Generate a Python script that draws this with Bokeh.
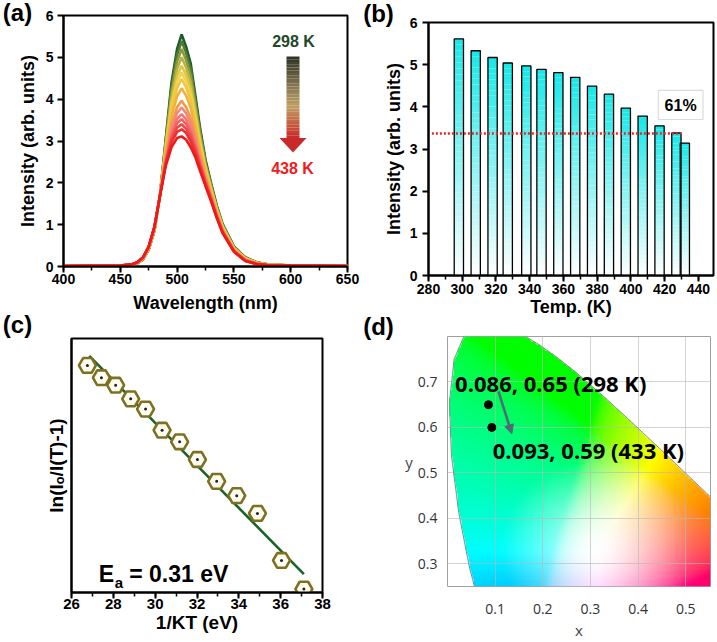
import numpy as np
from bokeh.plotting import figure
from bokeh.layouts import row, column
from bokeh.models import (Range1d, SingleIntervalTicker, FixedTicker, Label,
                          BoxAnnotation, Arrow, NormalHead)
from bokeh.embed import file_html
from bokeh.resources import INLINE

# ---------------- data ----------------
# (a) emission spectra, 298 K ... 438 K
wavelength = [400, 450, 460, 465, 470, 475, 480, 485, 490, 495, 500, 504, 508, 512,
              516, 520, 525, 530, 535, 540, 550, 560, 570, 580, 600, 650]
spec_temps = [298, 308, 318, 328, 338, 348, 358, 368, 378, 388, 398, 408, 418, 428, 438]
spec_298 = [0.00, 0.01, 0.03, 0.07, 0.17, 0.40, 0.85, 1.72, 3.05, 4.38, 5.20, 5.55, 5.25, 4.85, 4.10, 3.35, 2.55, 1.98, 1.45, 1.02, 0.48, 0.22, 0.10, 0.05, 0.02, 0.01]
spec_308 = [0.00, 0.01, 0.03, 0.07, 0.17, 0.41, 0.86, 1.72, 3.01, 4.28, 5.06, 5.39, 5.10, 4.72, 4.00, 3.28, 2.51, 1.95, 1.43, 1.01, 0.47, 0.21, 0.10, 0.05, 0.02, 0.01]
spec_318 = [0.00, 0.01, 0.03, 0.07, 0.18, 0.41, 0.86, 1.72, 2.96, 4.16, 4.90, 5.20, 4.93, 4.56, 3.89, 3.20, 2.46, 1.92, 1.41, 0.99, 0.46, 0.21, 0.09, 0.05, 0.02, 0.01]
spec_328 = [0.00, 0.01, 0.03, 0.08, 0.18, 0.42, 0.87, 1.72, 2.90, 4.04, 4.72, 5.00, 4.75, 4.40, 3.77, 3.11, 2.41, 1.88, 1.38, 0.97, 0.45, 0.20, 0.09, 0.05, 0.02, 0.01]
spec_338 = [0.00, 0.01, 0.04, 0.08, 0.19, 0.42, 0.88, 1.71, 2.85, 3.91, 4.55, 4.80, 4.57, 4.24, 3.65, 3.03, 2.36, 1.85, 1.36, 0.95, 0.44, 0.19, 0.09, 0.04, 0.02, 0.01]
spec_348 = [0.00, 0.01, 0.04, 0.08, 0.19, 0.43, 0.89, 1.71, 2.81, 3.81, 4.41, 4.64, 4.42, 4.10, 3.55, 2.96, 2.32, 1.82, 1.34, 0.94, 0.43, 0.19, 0.09, 0.04, 0.02, 0.01]
spec_358 = [0.00, 0.01, 0.04, 0.08, 0.19, 0.44, 0.89, 1.71, 2.76, 3.71, 4.27, 4.48, 4.28, 3.97, 3.45, 2.89, 2.27, 1.79, 1.32, 0.92, 0.42, 0.18, 0.08, 0.04, 0.02, 0.01]
spec_368 = [0.01, 0.02, 0.04, 0.09, 0.20, 0.44, 0.90, 1.71, 2.71, 3.57, 4.07, 4.26, 4.08, 3.79, 3.32, 2.79, 2.22, 1.75, 1.29, 0.90, 0.41, 0.17, 0.08, 0.04, 0.02, 0.01]
spec_378 = [0.01, 0.02, 0.04, 0.09, 0.20, 0.45, 0.92, 1.71, 2.63, 3.38, 3.81, 3.96, 3.80, 3.55, 3.14, 2.67, 2.14, 1.70, 1.25, 0.88, 0.40, 0.16, 0.07, 0.04, 0.02, 0.01]
spec_388 = [0.01, 0.02, 0.04, 0.09, 0.21, 0.46, 0.92, 1.71, 2.58, 3.28, 3.67, 3.80, 3.66, 3.42, 3.04, 2.60, 2.10, 1.67, 1.24, 0.86, 0.39, 0.16, 0.07, 0.04, 0.02, 0.01]
spec_398 = [0.01, 0.02, 0.05, 0.09, 0.21, 0.46, 0.93, 1.70, 2.54, 3.18, 3.53, 3.64, 3.51, 3.28, 2.94, 2.53, 2.06, 1.64, 1.22, 0.85, 0.38, 0.15, 0.07, 0.03, 0.02, 0.01]
spec_408 = [0.01, 0.02, 0.05, 0.10, 0.21, 0.47, 0.93, 1.70, 2.51, 3.11, 3.43, 3.52, 3.40, 3.19, 2.87, 2.48, 2.03, 1.62, 1.20, 0.84, 0.37, 0.15, 0.07, 0.03, 0.02, 0.01]
spec_418 = [0.01, 0.02, 0.05, 0.10, 0.21, 0.47, 0.94, 1.70, 2.48, 3.03, 3.32, 3.40, 3.29, 3.09, 2.80, 2.43, 2.00, 1.60, 1.19, 0.83, 0.37, 0.14, 0.06, 0.03, 0.02, 0.01]
spec_428 = [0.01, 0.02, 0.05, 0.10, 0.22, 0.47, 0.94, 1.70, 2.45, 2.96, 3.22, 3.28, 3.19, 2.99, 2.72, 2.37, 1.96, 1.58, 1.17, 0.82, 0.36, 0.14, 0.06, 0.03, 0.02, 0.01]
spec_438 = [0.01, 0.02, 0.05, 0.10, 0.22, 0.48, 0.95, 1.70, 2.40, 2.85, 3.07, 3.11, 3.03, 2.85, 2.62, 2.30, 1.92, 1.55, 1.15, 0.80, 0.35, 0.13, 0.06, 0.03, 0.02, 0.01]
spectra = [spec_298, spec_308, spec_318, spec_328, spec_338, spec_348, spec_358, spec_368,
           spec_378, spec_388, spec_398, spec_408, spec_418, spec_428, spec_438]
spec_colors = ["#1f5a2c", "#4e7a33", "#889a3a", "#b8b23e", "#dcc645", "#f0d44c", "#f3c342",
               "#f2b03c", "#f29a48", "#f2877a", "#f27474", "#f15e5e", "#f04646", "#ef2e2e", "#ee1a1a"]

# (b) integrated intensity vs temperature
bar_temps = [298, 308, 318, 327, 338, 347, 357, 367, 377, 387, 397, 407, 417, 427, 432]
bar_intensity = [5.61, 5.33, 5.17, 5.04, 4.97, 4.89, 4.81, 4.70, 4.49, 4.30, 3.97, 3.78, 3.55, 3.38, 3.14]
level_61 = 3.37
level_x = [282, 430]

# (c) Arrhenius plot
inv_kt = [26.76, 27.43, 28.11, 28.83, 29.54, 30.33, 31.17, 32.02, 32.94, 33.90, 34.89, 36.04, 37.11]
ln_ratio = [-0.67, -0.85, -0.96, -1.16, -1.31, -1.62, -1.79, -2.05, -2.37, -2.58, -2.84, -3.53, -3.95]
fit_x = [26.85, 37.11]
fit_y = [-0.53, -3.73]

# (d) CIE 1931 chromaticity
cie_pts_x = [0.086, 0.093]
cie_pts_y = [0.65, 0.60]
locus_x = [0.1741, 0.1566, 0.1440, 0.1241, 0.1096, 0.0913, 0.0687, 0.0454, 0.0235, 0.0082,
           0.0039, 0.0139, 0.0389, 0.0743, 0.1142, 0.1547, 0.1929, 0.2296, 0.2658, 0.3016,
           0.3373, 0.3731, 0.4087, 0.4441, 0.4788, 0.5125, 0.5448, 0.5752, 0.6270, 0.6915, 0.7347]
locus_y = [0.0050, 0.0177, 0.0297, 0.0578, 0.0868, 0.1327, 0.2007, 0.2950, 0.4127, 0.5384,
           0.6548, 0.7502, 0.8120, 0.8338, 0.8262, 0.8059, 0.7816, 0.7543, 0.7243, 0.6923,
           0.6589, 0.6245, 0.5896, 0.5547, 0.5202, 0.4866, 0.4544, 0.4242, 0.3725, 0.3083, 0.2653]

BF = "Liberation Sans"


def no_align(p):
    try:
        p.frame_align = False
    except Exception:
        pass


def base_style(p, tick_px):
    p.outline_line_color = "black"
    p.outline_line_width = 2
    p.xgrid.visible = False
    p.ygrid.visible = False
    p.background_fill_color = "white"
    p.border_fill_color = "white"
    for ax in p.axis:
        ax.axis_line_width = 2
        ax.major_tick_line_width = 2
        ax.minor_tick_line_width = 1.5
        ax.major_tick_in = 0
        ax.minor_tick_in = 0
        ax.major_tick_out = 6
        ax.minor_tick_out = 4
        ax.major_label_text_font = BF
        ax.major_label_text_font_style = "bold"
        ax.major_label_text_font_size = f"{tick_px}px"
        ax.major_label_text_color = "black"
        ax.axis_label_text_font = BF
        ax.axis_label_text_font_style = "bold"
        ax.axis_label_text_color = "black"


def flabel(p, text, x, y, size, color="black", font=BF, style="bold", align="center",
           baseline="middle", side=None):
    lab = Label(x=x, y=y, x_units="data", y_units="data", text=text, text_font=font,
                text_font_size=f"{size}px", text_font_style=style, text_color=color,
                text_align=align, text_baseline=baseline)
    if side is None:
        p.add_layout(lab)
    else:
        p.add_layout(lab, side)


# ================= (a) =================
pa = figure(width=360, height=336, x_range=Range1d(400, 650), y_range=Range1d(0, 6),
            output_backend="svg", toolbar_location=None, title=None,
            min_border_left=63, min_border_right=13, min_border_top=35, min_border_bottom=50,
            margin=(-20, 0, 0, 0))
no_align(pa)
base_style(pa, 14)
pa.xaxis.ticker = SingleIntervalTicker(interval=50, num_minor_ticks=2)
pa.yaxis.ticker = SingleIntervalTicker(interval=1, num_minor_ticks=0)
pa.yaxis.minor_tick_line_color = None
pa.xaxis.axis_label = "Wavelength (nm)"
pa.yaxis.axis_label = "Intensity (arb. units)"
pa.xaxis.axis_label_text_font_size = "18px"
pa.yaxis.axis_label_text_font_size = "18px"
pa.xaxis.major_label_standoff = 1
pa.xaxis.axis_label_standoff = 6
pa.yaxis.major_label_standoff = 4
pa.yaxis.axis_label_standoff = 5

for s, c in zip(spectra, spec_colors):
    pa.line(wavelength, s, line_color=c, line_width=2.6)


def ax_a(px):
    return 400 + (px - 63) * 250 / 284


def ay_a(py):
    return 6 - (py - 15) * 6 / 251


stops = [(0.0, (46, 51, 35)), (0.35, (130, 115, 80)), (0.6, (190, 160, 100)),
         (0.82, (196, 96, 64)), (1.0, (200, 40, 40))]


def grad(f):
    for (f0, c0), (f1, c1) in zip(stops[:-1], stops[1:]):
        if f0 <= f <= f1:
            t = (f - f0) / (f1 - f0)
            return "#%02x%02x%02x" % tuple(int(c0[k] + (c1[k] - c0[k]) * t) for k in range(3))
    return "#c82828"


nseg = 30
tops, bots, cols = [], [], []
for k in range(nseg):
    py0 = 56 + (138 - 56) * k / nseg
    py1 = 56 + (138 - 56) * (k + 1) / nseg
    tops.append(ay_a(py0)); bots.append(ay_a(py1)); cols.append(grad((k + 0.5) / nseg))
pa.quad(left=ax_a(286), right=ax_a(299), top=tops, bottom=bots, fill_color=cols, line_color=None)
pa.patch([ax_a(279), ax_a(306), ax_a(292.5)], [ay_a(137.5), ay_a(137.5), ay_a(152)],
         fill_color="#c82a2a", line_color=None)
flabel(pa, "298 K", ax_a(293), ay_a(41), 16, color="#1e4a2a")
flabel(pa, "438 K", ax_a(292), ay_a(168), 16, color="#ee1c1c")
flabel(pa, "(a)", ax_a(17), ay_a(12), 24, side="above")

# ================= (b) =================
pb = figure(width=357, height=339, x_range=Range1d(280, 449), y_range=Range1d(0, 6),
            output_backend="svg", toolbar_location=None, title=None,
            min_border_left=68, min_border_right=4, min_border_top=42, min_border_bottom=44,
            margin=(-20, 0, 0, 0))
no_align(pb)
base_style(pb, 14)
pb.xaxis.ticker = SingleIntervalTicker(interval=20, num_minor_ticks=2)
pb.yaxis.ticker = SingleIntervalTicker(interval=1, num_minor_ticks=0)
pb.yaxis.minor_tick_line_color = None
pb.xaxis.axis_label = "Temp. (K)"
pb.yaxis.axis_label = "Intensity (arb. units)"
pb.xaxis.axis_label_text_font_size = "18px"
pb.yaxis.axis_label_text_font_size = "18px"
pb.xaxis.major_label_standoff = 2
pb.xaxis.axis_label_standoff = 0
pb.yaxis.major_label_standoff = 5
pb.yaxis.axis_label_standoff = 3

bw = 5.5
ng = 40
top_c = np.array([24, 232, 232])
white = np.array([255, 255, 255])
ql, qr, qt, qb, qc = [], [], [], [], []
for t, v in zip(bar_temps, bar_intensity):
    for k in range(ng):
        f = (k + 0.5) / ng
        c = white + (top_c - white) * f
        ql.append(t - bw / 2); qr.append(t + bw / 2)
        qb.append(v * k / ng); qt.append(v * (k + 1) / ng)
        qc.append("#%02x%02x%02x" % tuple(int(x) for x in c))
pb.quad(left=ql, right=qr, top=qt, bottom=qb, fill_color=qc, line_color=None)
pb.quad(left=[t - bw / 2 for t in bar_temps], right=[t + bw / 2 for t in bar_temps],
        top=bar_intensity, bottom=0, fill_color=None, line_color="black", line_width=1.3)
pb.line(level_x, [level_61, level_61], line_color="#e5262a", line_width=2.5, line_dash="2 2")
pb.add_layout(BoxAnnotation(left=416.3, right=442.8, bottom=3.70, top=4.39,
                            fill_color="white", fill_alpha=1, line_color="#8a8a8a", line_width=1.2))
flabel(pb, "61%", 429.5, 4.04, 16)
bx = lambda px: 280 + (px - 428) * 169 / 285
by = lambda py: 6 - (py - 22) * 6 / 253
flabel(pb, "(b)", bx(378), by(13), 24, side="above")

# ================= (c) =================
pc = figure(width=360, height=336, x_range=Range1d(26, 38), y_range=Range1d(-4.0, -0.275),
            output_backend="svg", toolbar_location=None, title=None,
            min_border_left=71, min_border_right=38, min_border_top=32, min_border_bottom=50,
            margin=(-10, 0, 0, 0))
no_align(pc)
base_style(pc, 15)
pc.border_fill_alpha = 0
pc.xaxis.ticker = SingleIntervalTicker(interval=2, num_minor_ticks=2)
pc.yaxis.ticker = FixedTicker(ticks=[])
pc.xaxis.axis_label = "1/KT (eV)"
pc.yaxis.axis_label = "ln(I\u2092/I(T)-1)"
pc.xaxis.axis_label_text_font_size = "19px"
pc.yaxis.axis_label_text_font_size = "19px"
pc.xaxis.major_label_standoff = 0
pc.xaxis.axis_label_standoff = 0
pc.yaxis.major_label_standoff = 0
pc.yaxis.axis_label_standoff = 5

pc.line(fit_x, fit_y, line_color="#1b6426", line_width=2.6)
pc.scatter(inv_kt, ln_ratio, marker="hex", size=17, line_color="#7d7020", line_width=2.6,
           fill_color="#fffdf2")
pc.scatter(inv_kt, ln_ratio, marker="circle", size=3, fill_color="#222222", line_color=None)
flabel(pc, "E", 27.30, -3.730, 23, align="left", baseline="alphabetic")
flabel(pc, "a", 28.07, -3.853, 15, align="left", baseline="alphabetic")
flabel(pc, "= 0.31 eV", 28.76, -3.730, 23, align="left", baseline="alphabetic")
cx = lambda px: 26 + (px - 71) * 12 / 251
cy = lambda py: -0.275 - (py - 338) * 3.725 / 254
flabel(pc, "(c)", cx(17), cy(324), 24, side="right")

# ================= (d) =================
DF = "Open Sans"
x0, x1, y0, y1 = 0.0, 0.552, 0.25, 0.80
pd_ = figure(width=357, height=333, x_range=Range1d(x0, x1), y_range=Range1d(y0, y1),
             output_backend="svg", toolbar_location=None, title=None,
             min_border_left=87, min_border_right=7, min_border_top=27, min_border_bottom=49,
             margin=(-10, 0, 0, 0))
no_align(pd_)
pd_.border_fill_alpha = 0
pd_.outline_line_color = "#a0a0a0"
pd_.outline_line_width = 1
pd_.background_fill_color = "white"
for ax in pd_.axis:
    ax.axis_line_color = None
    ax.major_tick_line_color = None
    ax.minor_tick_line_color = None
    ax.major_label_text_font = DF
    ax.major_label_text_font_size = "14px"
    ax.major_label_text_color = "#333333"
    ax.axis_label_text_font = DF
    ax.axis_label_text_font_style = "normal"
    ax.axis_label_text_font_size = "15px"
    ax.axis_label_text_color = "#444444"
pd_.xaxis.ticker = FixedTicker(ticks=[0.1, 0.2, 0.3, 0.4, 0.5])
pd_.yaxis.ticker = FixedTicker(ticks=[0.3, 0.4, 0.5, 0.6, 0.7])
pd_.xaxis.axis_label = "x"
pd_.yaxis.axis_label = "y"
pd_.yaxis.axis_label_orientation = "horizontal"
pd_.xaxis.major_label_standoff = 11
pd_.xaxis.axis_label_standoff = 3
pd_.yaxis.major_label_standoff = 4
pd_.yaxis.axis_label_standoff = 2
for g in (pd_.xgrid, pd_.ygrid):
    g.grid_line_color = "#b8b8b8"
    g.grid_line_alpha = 0.6
    g.level = "underlay"

# chromaticity background image
nx, ny = 330, 330
gx = np.linspace(x0, x1, nx)
gy = np.linspace(y0, y1, ny)
GX, GY = np.meshgrid(gx, gy)
Xc = GX / GY
Zc = (1 - GX - GY) / GY
r = 3.2406 * Xc - 1.5372 - 0.4986 * Zc
g = -0.9689 * Xc + 1.8758 + 0.0415 * Zc
b = 0.0557 * Xc - 0.2040 + 1.0570 * Zc
rgb = np.clip(np.stack([r, g, b], -1), 0, None)
rgb = rgb / np.maximum(rgb.max(-1, keepdims=True), 1e-9)
rgb = np.where(rgb <= 0.0031308, 12.92 * rgb, 1.055 * np.power(rgb, 1 / 2.4) - 0.055)
dist = np.hypot(GX - 0.3127, GY - 0.3290)
sat = np.clip(dist / 0.20, 0, 1) ** 0.9
rgb = 1 - (1 - rgb) * sat[..., None]


def box_blur(a, w):
    k = np.ones(w) / w
    pad = w // 2
    out = np.pad(a, ((pad, pad), (0, 0)), mode="edge")
    out = np.apply_along_axis(lambda m: np.convolve(m, k, mode="valid"), 0, out)
    out = np.pad(out, ((0, 0), (pad, pad)), mode="edge")
    out = np.apply_along_axis(lambda m: np.convolve(m, k, mode="valid"), 1, out)
    return out


for ch in range(3):
    rgb[..., ch] = box_blur(box_blur(rgb[..., ch], 9), 9)
rgb = np.clip(rgb, 0, 1)

vx = np.array(locus_x); vy = np.array(locus_y)
inside = np.zeros(GX.shape, bool)
j = len(vx) - 1
for i in range(len(vx)):
    cond = ((vy[i] > GY) != (vy[j] > GY)) & (GX < (vx[j] - vx[i]) * (GY - vy[i]) / (vy[j] - vy[i] + 1e-12) + vx[i])
    inside ^= cond
    j = i
img = np.zeros((ny, nx), dtype=np.uint32)
view = img.view(dtype=np.uint8).reshape((ny, nx, 4))
view[..., 0] = (rgb[..., 0] * 255).astype(np.uint8)
view[..., 1] = (rgb[..., 1] * 255).astype(np.uint8)
view[..., 2] = (rgb[..., 2] * 255).astype(np.uint8)
view[..., 3] = np.where(inside, 255, 0).astype(np.uint8)
pd_.image_rgba(image=[img], x=x0, y=y0, dw=x1 - x0, dh=y1 - y0, level="image")
pd_.line(locus_x + [locus_x[0]], locus_y + [locus_y[0]], line_color="#6e7a70", line_width=0.8)

pd_.scatter(cie_pts_x, cie_pts_y, marker="circle", size=8, fill_color="black", line_color="black")
acol = "#4f6b78"
pd_.add_layout(Arrow(end=NormalHead(size=9, fill_color=acol, line_color=acol),
                     x_start=0.107, y_start=0.679, x_end=0.135, y_end=0.586,
                     line_color=acol, line_width=2.5))
flabel(pd_, "0.086, 0.65 (298 K)", 0.016, 0.6985, 22, font=DF, align="left")
flabel(pd_, "0.093, 0.59 (433 K)", 0.095, 0.550, 22, font=DF, align="left")
dxf = lambda px: (px - 447) * 0.552 / 263
dyf = lambda py: 0.80 - (py - 336) * 0.55 / 257
flabel(pd_, "(d)", dxf(378), dyf(326), 24, side="left")

layout = row(column(pa, pc), column(pb, pd_))
open("out.html", "w").write(file_html(layout, INLINE))
